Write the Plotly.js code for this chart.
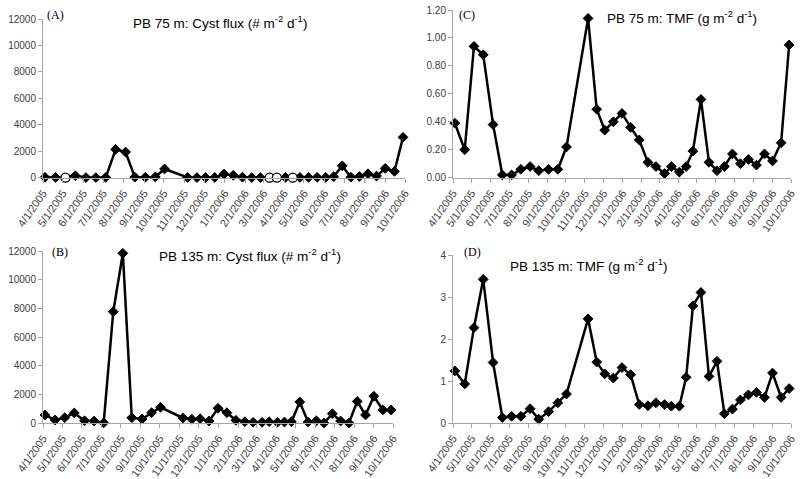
<!DOCTYPE html>
<html>
<head>
<meta charset="utf-8">
<script src="https://cdn.plot.ly/plotly-3.0.1.min.js"></script>
<style>
html,body{margin:0;padding:0;background:#fff;}
#chart{width:800px;height:479px;}
</style>
</head>
<body>
<div id="chart"></div>
<script>
// ---------------- DATA ----------------
const sampleDates = [
  '2005-04-04','2005-04-20','2005-05-05','2005-05-20','2005-06-05','2005-06-20',
  '2005-07-05','2005-07-20','2005-08-04','2005-08-18','2005-09-03','2005-09-18',
  '2005-10-02','2005-11-06','2005-11-20','2005-12-03','2005-12-17','2005-12-31',
  '2006-01-14','2006-01-28','2006-02-11','2006-02-24','2006-03-10','2006-03-21',
  '2006-04-03','2006-04-14','2006-04-25','2006-05-08','2006-05-21','2006-06-03',
  '2006-06-15','2006-06-28','2006-07-11','2006-07-24','2006-08-06','2006-08-19',
  '2006-09-01','2006-09-15','2006-09-28'
];
// (A) PB 75 m cyst flux (# m-2 d-1)
const cystFlux75 = [30, 20, 0, 150, 10, 10, 20, 2140, 1940, 40, 40, 60, 660, 20, 10, 10, 20, 280, 180, 40,
  10, 10, 0, 0, 20, 0, 20, 30, 30, 20, 80, 900, 40, 90, 300, 120, 700, 480, 3050];
// samples in (A) drawn as open circles
const cystFlux75Open = [false, false, true, false, false, false, false, false, false, false, false, false, false,
  false, false, false, false, false, false, false, false, false, true, true, false, true, false, false, false, false,
  false, false, false, false, false, false, false, false, false];
// (B) PB 135 m cyst flux (# m-2 d-1)
const cystFlux135 = [560, 210, 370, 700, 160, 140, 10, 7780, 11860, 370, 280, 720, 1100, 350, 260, 300, 140, 1030,
  720, 190, 90, 50, 50, 90, 50, 70, 90, 1470, 70, 160, 0, 650, 140, 0, 1510, 560, 1870, 910, 910];
// (C) PB 75 m TMF (g m-2 d-1)
const tmf75 = [0.39, 0.20, 0.94, 0.88, 0.38, 0.02, 0.02, 0.06, 0.08, 0.05, 0.06, 0.06, 0.22, 1.14, 0.49, 0.34,
  0.40, 0.46, 0.36, 0.27, 0.11, 0.08, 0.03, 0.08, 0.04, 0.08, 0.19, 0.56, 0.11, 0.05, 0.08, 0.17, 0.10, 0.13,
  0.09, 0.17, 0.12, 0.25, 0.95];
// (D) PB 135 m TMF (g m-2 d-1)
const tmf135 = [1.24, 0.93, 2.27, 3.42, 1.44, 0.13, 0.16, 0.16, 0.34, 0.09, 0.27, 0.48, 0.69, 2.48, 1.45, 1.17,
  1.07, 1.32, 1.15, 0.44, 0.41, 0.48, 0.44, 0.40, 0.40, 1.09, 2.79, 3.11, 1.11, 1.47, 0.22, 0.33, 0.55, 0.67,
  0.73, 0.61, 1.19, 0.61, 0.82];
const tickDates = ['2005-04-01','2005-05-01','2005-06-01','2005-07-01','2005-08-01','2005-09-01','2005-10-01',
  '2005-11-01','2005-12-01','2006-01-01','2006-02-01','2006-03-01','2006-04-01','2006-05-01','2006-06-01',
  '2006-07-01','2006-08-01','2006-09-01','2006-10-01'];
const tickLabels = ['4/1/2005','5/1/2005','6/1/2005','7/1/2005','8/1/2005','9/1/2005','10/1/2005','11/1/2005',
  '12/1/2005','1/1/2006','2/1/2006','3/1/2006','4/1/2006','5/1/2006','6/1/2006','7/1/2006','8/1/2006',
  '9/1/2006','10/1/2006'];
const panelTitles = ['PB 75 m: Cyst flux (# m<sup>-2</sup> d<sup>-1</sup>)', 'PB 135 m: Cyst flux (# m<sup>-2</sup> d<sup>-1</sup>)',
  'PB 75 m: TMF (g m<sup>-2</sup> d<sup>-1</sup>)', 'PB 135 m: TMF (g m<sup>-2</sup> d<sup>-1</sup>)'];
const panelLetters = ['(A)', '(B)', '(C)', '(D)'];

// ---------------- LAYOUT HELPERS ----------------
const W = 800, H = 479;
const fx = x => x / W;
const fy = y => 1 - y / H;
const axisColor = '#a6a6a6';
const yTickFont = {family: 'Liberation Sans, Arial, sans-serif', size: 10, color: '#404040'};
const xTickFont = {family: 'Liberation Sans, Arial, sans-serif', size: 10.8, color: '#404040'};

function xAxis(x0, x1, anchor) {
  return {
    domain: [fx(x0), fx(x1)], anchor: anchor, type: 'date',
    range: ['2005-04-01', '2006-10-01'],
    tickmode: 'array', tickvals: tickDates, ticktext: tickLabels,
    tickangle: -55, tickfont: xTickFont,
    ticks: 'outside', ticklen: 4, tickcolor: axisColor,
    showline: true, linecolor: axisColor, linewidth: 1,
    showgrid: false, zeroline: false, fixedrange: true
  };
}
function yAxis(yTop, yBot, anchor, range, dtick, fmt) {
  return {
    domain: [fy(yBot), fy(yTop)], anchor: anchor,
    range: range, dtick: dtick, tick0: 0, tickformat: fmt,
    tickfont: yTickFont, ticks: 'outside', ticklen: 4, tickcolor: axisColor,
    showline: true, linecolor: axisColor, linewidth: 1,
    showgrid: false, zeroline: false, fixedrange: true
  };
}

const lineStyle = {color: '#000', width: 2.5};
const diamond = {symbol: 'diamond', size: 7.5, color: '#000', line: {color: '#000', width: 1}};

// (A): line through all samples, diamonds on regular samples, open circles on flagged ones
const filledA = sampleDates.map((d, i) => cystFlux75Open[i] ? null : cystFlux75[i]);
const openA = sampleDates.map((d, i) => cystFlux75Open[i] ? cystFlux75[i] : null);

const traces = [
  {x: sampleDates, y: cystFlux75, xaxis: 'x', yaxis: 'y', type: 'scatter', mode: 'lines',
   line: lineStyle, cliponaxis: false},
  {x: sampleDates, y: filledA, xaxis: 'x', yaxis: 'y', type: 'scatter', mode: 'markers',
   marker: diamond, cliponaxis: false},
  {x: sampleDates, y: openA, xaxis: 'x', yaxis: 'y', type: 'scatter', mode: 'markers',
   marker: {symbol: 'circle', size: 9, color: '#ffffff', line: {color: '#000000', width: 1.3}}, cliponaxis: false},
  {x: sampleDates, y: cystFlux135, xaxis: 'x2', yaxis: 'y2', type: 'scatter', mode: 'lines+markers',
   line: lineStyle, marker: diamond, cliponaxis: false},
  {x: sampleDates, y: tmf75, xaxis: 'x3', yaxis: 'y3', type: 'scatter', mode: 'lines+markers',
   line: lineStyle, marker: diamond, cliponaxis: false},
  {x: sampleDates, y: tmf135, xaxis: 'x4', yaxis: 'y4', type: 'scatter', mode: 'lines+markers',
   line: lineStyle, marker: diamond, cliponaxis: false}
];

// panel pixel boxes: [xLeft, xRight, yTop, yBottom]
const boxA = [43, 405, 19, 177.7];
const boxB = [43, 393, 251.3, 423];
const boxC = [453, 791, 10, 177.7];
const boxD = [453, 791, 255, 423];

const titlePos = [[220, 22], [250, 255], [682, 17], [589, 265]];
const letterPos = [[45, 15], [50, 252], [457, 15], [462, 252]];

const annotations = [];
for (let i = 0; i < 4; i++) {
  annotations.push({
    xref: 'paper', yref: 'paper', x: fx(titlePos[i][0]), y: fy(titlePos[i][1]),
    xanchor: 'center', yanchor: 'middle', showarrow: false, text: panelTitles[i],
    font: {family: 'Liberation Sans, Arial, sans-serif', size: 13.5, color: '#000'}
  });
  annotations.push({
    xref: 'paper', yref: 'paper', x: fx(letterPos[i][0]), y: fy(letterPos[i][1]),
    xanchor: 'left', yanchor: 'middle', showarrow: false, text: panelLetters[i],
    font: {family: 'Liberation Serif, Times New Roman, serif', size: 12, color: '#000'}
  });
}

const layout = {
  width: W, height: H,
  margin: {l: 0, r: 0, t: 0, b: 0, pad: 0},
  paper_bgcolor: '#fff', plot_bgcolor: '#fff',
  showlegend: false,
  xaxis: xAxis(boxA[0], boxA[1], 'y'),
  yaxis: yAxis(boxA[2], boxA[3], 'x', [0, 12000], 2000, 'd'),
  xaxis2: xAxis(boxB[0], boxB[1], 'y2'),
  yaxis2: yAxis(boxB[2], boxB[3], 'x2', [0, 12000], 2000, 'd'),
  xaxis3: xAxis(boxC[0], boxC[1], 'y3'),
  yaxis3: yAxis(boxC[2], boxC[3], 'x3', [0, 1.2], 0.2, '.2f'),
  xaxis4: xAxis(boxD[0], boxD[1], 'y4'),
  yaxis4: yAxis(boxD[2], boxD[3], 'x4', [0, 4], 1, 'd'),
  annotations: annotations
};

Plotly.newPlot('chart', traces, layout, {staticPlot: true, displayModeBar: false});
</script>
</body>
</html>
